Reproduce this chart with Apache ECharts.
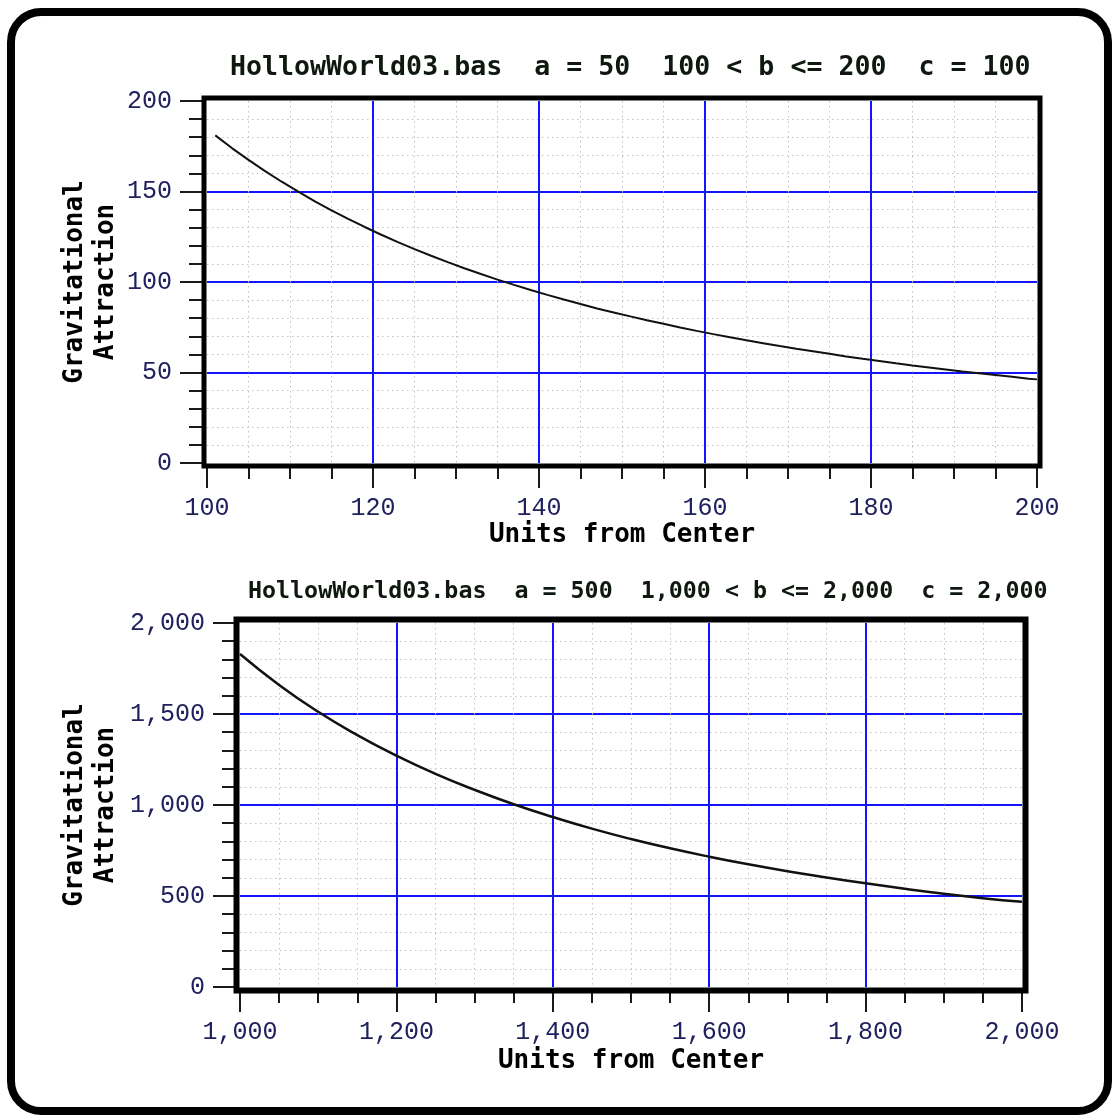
<!DOCTYPE html>
<html>
<head>
<meta charset="utf-8">
<script src="https://cdn.jsdelivr.net/npm/echarts@6/dist/echarts.min.js"></script>
<style>
  html, body { margin: 0; padding: 0; background: #ffffff; }
  #chart { width: 1113px; height: 1117px; }
</style>
</head>
<body>
<div id="chart"></div>
<script>
// Upper panel: radius 100 < b <= 200
const topDistance = [101, 103, 105, 107, 109, 111, 113, 115, 117, 119, 121, 123, 125, 127, 129,
  131, 133, 135, 137, 139, 141, 143, 145, 147, 149, 151, 153, 155, 157, 159, 161, 163, 165, 167,
  169, 171, 173, 175, 177, 179, 181, 183, 185, 187, 189, 191, 193, 195, 197, 199, 200];
const topAttraction = [181, 174, 167.5, 161.3, 155.4, 149.9, 144.6, 139.6, 134.9, 130.4, 126.1,
  122.0, 118.2, 114.5, 111.0, 107.6, 104.4, 101.3, 98.4, 95.6, 92.9, 90.3, 87.8, 85.4, 83.2, 81.0,
  78.9, 76.9, 74.9, 73.0, 71.2, 69.5, 67.8, 66.2, 64.6, 63.1, 61.7, 60.3, 58.9, 57.6, 56.4, 55.1,
  53.9, 52.8, 51.7, 50.6, 49.6, 48.6, 47.6, 46.6, 46.2];

// Lower panel: radius 1,000 < b <= 2,000
const bottomDistance = [1000, 1050, 1100, 1150, 1200, 1250, 1300, 1350, 1400, 1450, 1500,
  1550, 1600, 1650, 1700, 1750, 1800, 1850, 1900, 1950, 2000];
const bottomAttraction = [1830, 1660, 1512, 1384, 1271, 1171, 1083, 1004, 934, 870, 813,
  762, 716, 674, 636, 602, 570, 540, 512, 488, 468];

const topTitle = 'HollowWorld03.bas  a = 50  100 < b <= 200  c = 100';
const bottomTitle = 'HollowWorld03.bas  a = 500  1,000 < b <= 2,000  c = 2,000';
const xName = 'Units from Center';
const yName = 'Gravitational\nAttraction';

const labelFont = 'Liberation Mono';
const boldFont = 'DejaVu Sans Mono';
const labelColor = '#20205e';
const tickStyle = { color: '#1a1a1a', width: 2 };

const grids = [
  { left: 207, top: 101, width: 830, height: 362 },
  { left: 240, top: 623, width: 782, height: 364 }
];

function fmt(v) { return Number(v).toLocaleString('en-US'); }

function xAxisFor(idx, min, max, interval, gap) {
  return {
    type: 'value', gridIndex: idx, min: min, max: max, interval: interval, offset: 5,
    axisLine: { show: false, onZero: false },
    axisTick: { show: true, length: 20, lineStyle: tickStyle },
    minorTick: { show: true, splitNumber: 4, length: 11, lineStyle: tickStyle },
    splitLine: { show: true, showMinLine: false, showMaxLine: false,
      lineStyle: { color: '#1414ff', width: 2 } },
    minorSplitLine: { show: true, lineStyle: { color: '#c2c2c2', width: 1, type: [1.5, 3.5] } },
    axisLabel: { margin: 28, color: labelColor, fontFamily: labelFont, fontSize: 25, formatter: fmt },
    name: xName, nameLocation: 'middle', nameGap: gap, nameMoveOverlap: false,
    nameTextStyle: { color: '#000', fontFamily: boldFont, fontWeight: 'bold', fontSize: 26 }
  };
}

function yAxisFor(idx, max, interval, gap) {
  return {
    type: 'value', gridIndex: idx, min: 0, max: max, interval: interval, offset: 5,
    axisLine: { show: false, onZero: false },
    axisTick: { show: true, length: 22, lineStyle: tickStyle },
    minorTick: { show: true, splitNumber: 5, length: 13, lineStyle: tickStyle },
    splitLine: { show: true, showMinLine: false, showMaxLine: false,
      lineStyle: { color: '#1414ff', width: 2 } },
    minorSplitLine: { show: true, lineStyle: { color: '#c2c2c2', width: 1, type: [1.5, 3.5] } },
    axisLabel: { margin: 30, color: labelColor, fontFamily: labelFont, fontSize: 25, formatter: fmt },
    name: yName, nameLocation: 'middle', nameGap: gap, nameRotate: 90, nameMoveOverlap: false,
    nameTextStyle: { color: '#000', fontFamily: boldFont, fontWeight: 'bold', fontSize: 26, lineHeight: 31 }
  };
}

function frame(g, pad, w) {
  return {
    type: 'rect', z: 100, silent: true,
    shape: { x: g.left - pad, y: g.top - pad, width: g.width + 2 * pad, height: g.height + 2 * pad },
    style: { fill: 'none', stroke: '#000', lineWidth: w }
  };
}

const chart = echarts.init(document.getElementById('chart'), null, { renderer: 'canvas' });
chart.setOption({
  animation: false,
  backgroundColor: '#ffffff',
  title: [
    { text: topTitle, left: 225, top: 50,
      textStyle: { color: '#0e180e', fontFamily: boldFont, fontWeight: 'bold', fontSize: 26.6 } },
    { text: bottomTitle, left: 243, top: 575,
      textStyle: { color: '#0e180e', fontFamily: boldFont, fontWeight: 'bold', fontSize: 23.3 } }
  ],
  grid: grids,
  xAxis: [
    xAxisFor(0, 100, 200, 20, 54),
    xAxisFor(1, 1000, 2000, 200, 56)
  ],
  yAxis: [
    yAxisFor(0, 200, 50, 80),
    yAxisFor(1, 2000, 500, 113)
  ],
  series: [
    { type: 'line', xAxisIndex: 0, yAxisIndex: 0, showSymbol: false,
      data: topDistance.map((d, i) => [d, topAttraction[i]]),
      lineStyle: { color: '#111', width: 2 } },
    { type: 'line', xAxisIndex: 1, yAxisIndex: 1, showSymbol: false, smooth: true,
      data: bottomDistance.map((d, i) => [d, bottomAttraction[i]]),
      lineStyle: { color: '#111', width: 2.5 } }
  ],
  graphic: [
    { type: 'rect', z: 100, silent: true,
      shape: { x: 11, y: 12, width: 1097, height: 1099, r: 30 },
      style: { fill: 'none', stroke: '#000', lineWidth: 8 } },
    frame(grids[0], 3, 5),
    frame(grids[1], 3.5, 6)
  ]
});
</script>
</body>
</html>
